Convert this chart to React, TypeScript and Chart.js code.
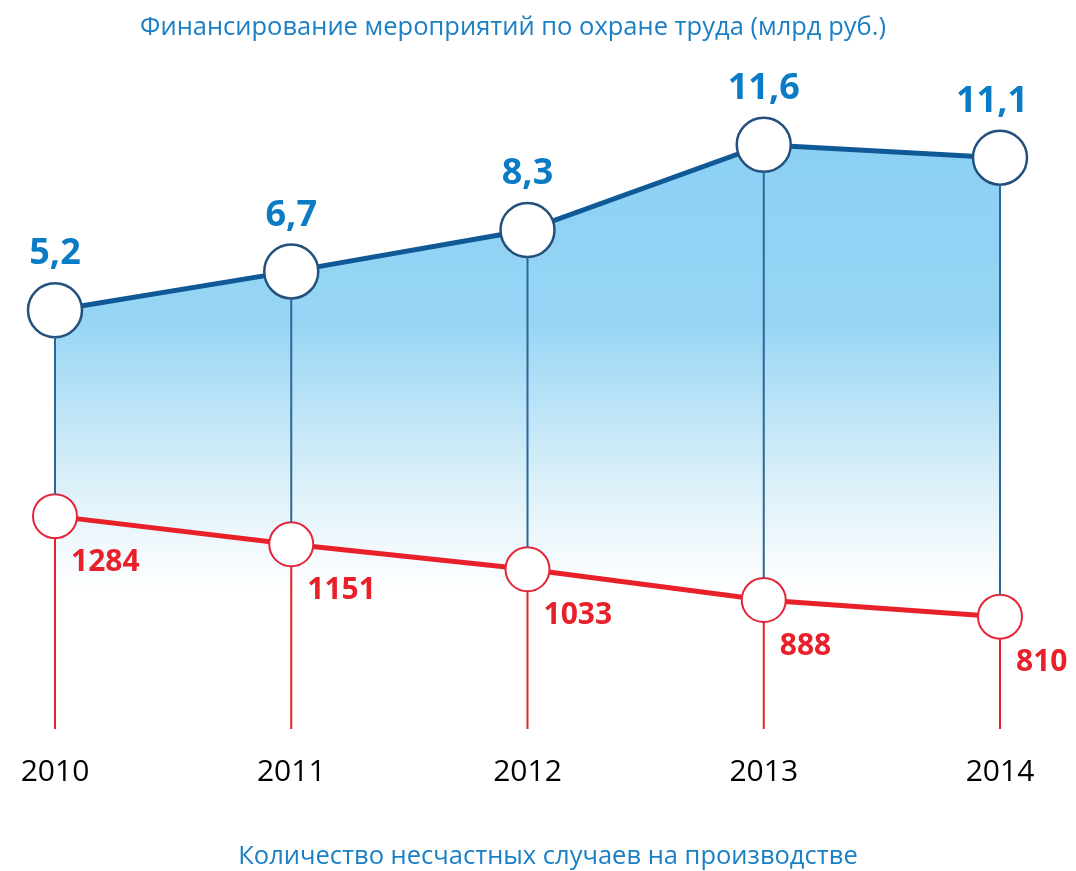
import React, { useEffect, useRef } from 'react';
import { Chart, registerables } from 'chart.js';

Chart.register(...registerables);

const years = ['2010', '2011', '2012', '2013', '2014'];
const funding = [5.2, 6.7, 8.3, 11.6, 11.1];
const accidents = [1284, 1151, 1033, 888, 810];
const topTitle = 'Финансирование мероприятий по охране труда (млрд руб.)';
const bottomTitle = 'Количество несчастных случаев на производстве';

const FONT = '"Open Sans", "Liberation Sans", sans-serif';
const BLUE_R = 27;
const RED_R = 22;

const overlay = {
  id: 'overlay',
  afterDatasetsDraw(chart: any) {
    const ctx = chart.ctx as CanvasRenderingContext2D;
    const xs = chart.scales.x;
    const ys = chart.scales.y;
    const y2 = chart.scales.y2;
    const bottom = chart.chartArea.bottom;
    ctx.save();
    years.forEach((_, i) => {
      const px = xs.getPixelForValue(i);
      const by = ys.getPixelForValue(funding[i]);
      const ry = y2.getPixelForValue(accidents[i]);
      ctx.lineWidth = 2;
      ctx.strokeStyle = '#2c6798';
      ctx.beginPath();
      ctx.moveTo(px, by + BLUE_R);
      ctx.lineTo(px, ry - RED_R);
      ctx.stroke();
      ctx.strokeStyle = '#e8202a';
      ctx.beginPath();
      ctx.moveTo(px, ry + RED_R);
      ctx.lineTo(px, bottom);
      ctx.stroke();

      ctx.fillStyle = '#0a7bc4';
      ctx.font = `bold 36px ${FONT}`;
      ctx.textAlign = 'center';
      ctx.textBaseline = 'middle';
      const bx = i === years.length - 1 ? px - 8 : px;
      ctx.fillText(String(funding[i]).replace('.', ','), bx, by - 56);

      ctx.fillStyle = '#e8202a';
      ctx.font = `bold 30px ${FONT}`;
      ctx.textAlign = 'left';
      ctx.fillText(String(accidents[i]), px + 16, ry + 46);
    });
    ctx.restore();
  },
  afterDraw(chart: any) {
    const ctx = chart.ctx as CanvasRenderingContext2D;
    ctx.save();
    ctx.fillStyle = '#1a7fc4';
    ctx.font = `25.5px ${FONT}`;
    ctx.textAlign = 'center';
    ctx.textBaseline = 'middle';
    ctx.fillText(topTitle, 513, 28);
    ctx.fillText(bottomTitle, 548, 857);
    ctx.restore();
  },
};

export default function App() {
  const ref = useRef<HTMLCanvasElement | null>(null);
  useEffect(() => {
    document.body.style.margin = '0';
    const canvas = ref.current;
    if (!canvas) return;
    const chart = new Chart(canvas, {
      type: 'line',
      data: {
        labels: years,
        datasets: [
          {
            label: 'funding',
            data: funding,
            yAxisID: 'y',
            order: 2,
            borderColor: '#0f5a96',
            borderWidth: 5,
            tension: 0,
            fill: 'start',
            clip: false,
            backgroundColor: (c: any) => {
              const ch = c.chart;
              const area = ch.chartArea;
              if (!area) return 'rgba(140,209,244,1)';
              const g = ch.ctx.createLinearGradient(0, area.top + 80, 0, area.bottom - 140);
              g.addColorStop(0, '#8bd0f4');
              g.addColorStop(0.4, '#97d5f5');
              g.addColorStop(0.75, '#d9eff9');
              g.addColorStop(1, '#ffffff');
              return g;
            },
            pointRadius: BLUE_R,
            pointBackgroundColor: '#ffffff',
            pointBorderColor: '#23517c',
            pointBorderWidth: 2.5,
          },
          {
            label: 'accidents',
            data: accidents,
            yAxisID: 'y2',
            order: 1,
            borderColor: '#e8202a',
            borderWidth: 5,
            tension: 0,
            fill: false,
            clip: false,
            pointRadius: RED_R,
            pointBackgroundColor: '#ffffff',
            pointBorderColor: '#e3263a',
            pointBorderWidth: 2,
          },
        ],
      },
      options: {
        animation: false,
        responsive: false,
        events: [],
        layout: { padding: { left: 55, right: 76, top: 62, bottom: 56 } },
        plugins: { legend: { display: false }, tooltip: { enabled: false }, title: { display: false } },
        scales: {
          x: {
            offset: false,
            grid: { display: false, drawTicks: false },
            border: { display: false },
            ticks: { color: '#000000', font: { family: FONT, size: 30 }, padding: 25, maxRotation: 0 },
            afterFit: (scale: any) => {
              scale.paddingLeft = 0;
              scale.paddingRight = 0;
            },
          },
          y: { display: false, min: -11, max: 14.8 },
          y2: { display: false, min: 280, max: 3426 },
        },
      },
      plugins: [overlay],
    });
    return () => chart.destroy();
  }, []);
  return <canvas ref={ref} width={1076} height={871} style={{ display: 'block' }} />;
}
